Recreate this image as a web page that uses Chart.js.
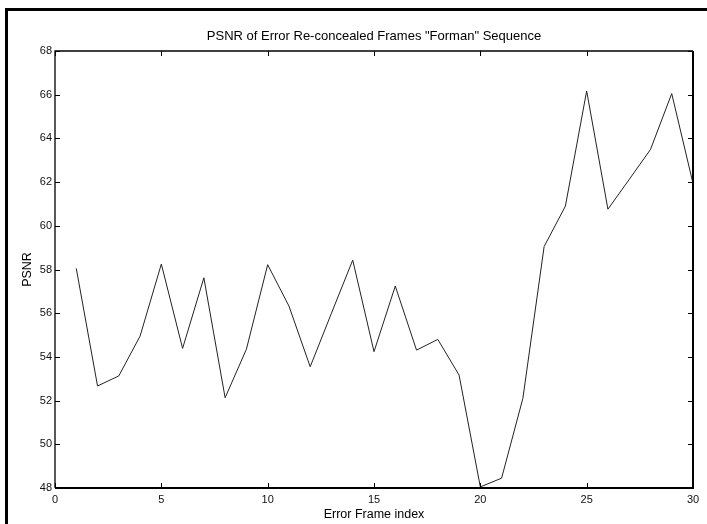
<!DOCTYPE html>
<html>
<head>
<meta charset="utf-8">
<script src="https://cdn.jsdelivr.net/npm/chart.js@4.4.1/dist/chart.umd.min.js"></script>
<style>
  html, body { margin:0; padding:0; background:#fff; }
  #wrap { position:relative; width:707px; height:524px; overflow:hidden; }
  #frame { position:absolute; left:5px; top:8px; right:-10px; bottom:-10px;
           border-top:3.5px solid #000; border-left:3.5px solid #000; pointer-events:none; }
</style>
</head>
<body>
<div id="wrap">
  <canvas id="psnr" width="707" height="524"></canvas>
  <div id="frame"></div>
</div>
<script>
// PSNR per re-concealed frame, "Forman" sequence
const frames = [1,2,3,4,5,6,7,8,9,10,11,12,13,14,15,16,17,18,19,20,21,22,23,24,25,26,27,28,29,30];
const psnr   = [58.05,52.67,53.13,54.95,58.25,54.39,57.62,52.13,54.35,58.22,
                56.33,53.55,56.0,58.43,54.24,57.24,54.31,54.8,53.17,48.05,
                48.45,52.1,59.05,60.9,66.17,60.76,62.12,63.49,66.05,61.94];
const xTicks = [0,5,10,15,20,25,30];
const yTicks = [48,50,52,54,56,58,60,62,64,66,68];
const chartTitle = 'PSNR of Error Re-concealed Frames "Forman" Sequence';

const FONT = 'Liberation Sans, Arial, sans-serif';

// matlab style box with inward ticks on all four sides
const matlabBox = {
  id: 'matlabBox',
  afterDraw(chart){
    const {ctx, chartArea:a, scales} = chart;
    const L = 5;
    ctx.save();
    ctx.strokeStyle = '#000';
    ctx.lineWidth = 1;
    ctx.beginPath();
    xTicks.forEach(v=>{
      const px = Math.round(scales.x.getPixelForValue(v)) + 0.5;
      ctx.moveTo(px, a.bottom); ctx.lineTo(px, a.bottom - L);
      ctx.moveTo(px, a.top);    ctx.lineTo(px, a.top + L);
    });
    yTicks.forEach(v=>{
      const py = Math.round(scales.y.getPixelForValue(v)) + 0.5;
      ctx.moveTo(a.left, py);  ctx.lineTo(a.left + L, py);
      ctx.moveTo(a.right, py); ctx.lineTo(a.right - L, py);
    });
    ctx.stroke();
    // frame
    ctx.lineWidth = 1.3;
    ctx.beginPath();
    ctx.moveTo(a.left, a.bottom); ctx.lineTo(a.left, a.top); ctx.lineTo(a.right, a.top);
    ctx.stroke();
    ctx.lineWidth = 2;
    ctx.beginPath();
    ctx.moveTo(a.left, a.bottom); ctx.lineTo(a.right, a.bottom); ctx.lineTo(a.right, a.top);
    ctx.stroke();
    ctx.restore();
  }
};

new Chart(document.getElementById('psnr'), {
  type: 'line',
  data: {
    datasets: [{
      data: psnr.map((v,i)=>({x:frames[i], y:v})),
      xAxisID: 'x',
      borderColor: '#222',
      borderWidth: 1,
      pointRadius: 0,
      tension: 0,
      fill: false
    }]
  },
  options: {
    responsive: false,
    animation: false,
    layout: { padding: { left:0, right:14, top:0, bottom:0 } },
    plugins: {
      legend: { display:false },
      tooltip: { enabled:false },
      title: { display:false }
    },
    scales: {
      // top axis only carries the title so it centres over the plot box
      top: {
        type: 'linear', position: 'top', min: 0, max: 30,
        afterFit(s){ s.height = 51; },
        grid: { display:false, drawTicks:false },
        border: { display:false },
        ticks: { display:false },
        title: { display:true, text: chartTitle, color:'#000',
                 font:{ family:FONT, size:13 }, padding:{ top:28.5, bottom:0 } }
      },
      x: {
        type: 'linear', min: 0, max: 30,
        afterFit(s){ s.height = 36; },
        afterBuildTicks(s){ s.ticks = xTicks.map(v=>({value:v})); },
        grid: { display:false, drawTicks:false },
        border: { display:false },
        ticks: { color:'#111', font:{ family:FONT, size:11 }, padding:5, maxRotation:0, autoSkip:false },
        title: { display:true, text:'Error Frame index', color:'#000',
                 font:{ family:FONT, size:12.5 }, padding:{ top:0, bottom:2 } }
      },
      y: {
        min: 48, max: 68,
        afterFit(s){ s.width = 55; },
        afterBuildTicks(s){ s.ticks = yTicks.map(v=>({value:v})); },
        grid: { display:false, drawTicks:false },
        border: { display:false },
        ticks: { color:'#111', font:{ family:FONT, size:11 }, padding:3, autoSkip:false },
        title: { display:true, text:'PSNR', color:'#000',
                 font:{ family:FONT, size:12.5 }, padding:{ top:20, bottom:0 } }
      }
    }
  },
  plugins: [matlabBox]
});
</script>
</body>
</html>
